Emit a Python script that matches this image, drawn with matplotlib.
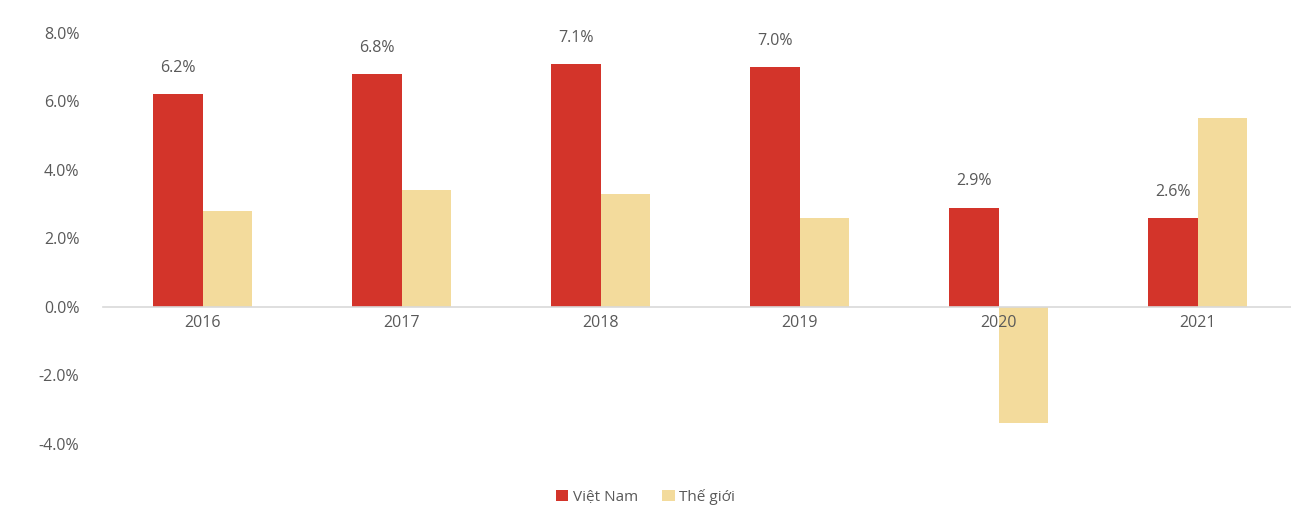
import numpy as np
import matplotlib.pyplot as plt
from matplotlib.ticker import FuncFormatter

# Tăng trưởng GDP: Việt Nam và thế giới
years = ['2016', '2017', '2018', '2019', '2020', '2021']
viet_nam = [6.2, 6.8, 7.1, 7.0, 2.9, 2.6]
the_gioi = [2.8, 3.4, 3.3, 2.6, -3.4, 5.5]

red = '#D3342A'
sand = '#F3DB9C'
grey = '#595959'

plt.rcParams['font.family'] = ['Open Sans', 'DejaVu Sans']

fig = plt.figure(figsize=(12.91, 5.11), dpi=100)
ax = fig.add_axes([103 / 1291, 0.131, 1194 / 1291, 0.805])

x = np.arange(len(years))
w = 0.25
b1 = ax.bar(x - w / 2, viet_nam, w, color=red, label='Việt Nam')
b2 = ax.bar(x + w / 2, the_gioi, w, color=sand, label='Thế giới')

for rect, v in zip(b1, viet_nam):
    ax.annotate(f'{v:.1f}%', (rect.get_x() + rect.get_width() / 2, v),
                xytext=(0, 13), textcoords='offset points',
                ha='center', va='bottom', fontsize=11.5, color=grey)

ax.set_xlim(-0.5, len(years) - 0.5)
ax.set_ylim(-4, 8)
ax.set_yticks(np.arange(-4, 9, 2))
ax.yaxis.set_major_formatter(FuncFormatter(lambda v, p: f'{v:.1f}%'))

ax.set_xticks(x)
ax.set_xticklabels(years)
ax.spines['bottom'].set_position(('data', 0))
ax.spines['bottom'].set_color('#D9D9D9')
ax.spines['bottom'].set_linewidth(1.2)
for s in ['top', 'right', 'left']:
    ax.spines[s].set_visible(False)
ax.tick_params(axis='both', length=0, colors=grey, labelsize=11.5)
ax.tick_params(axis='x', pad=6)
ax.tick_params(axis='y', pad=17)

fig.legend(handles=[b1, b2], loc='center', bbox_to_anchor=(0.5, 0.028),
           ncol=2, frameon=False, fontsize=11, labelcolor=grey,
           handlelength=0.8, handleheight=0.8, handletextpad=0.3,
           columnspacing=1.6)

fig.savefig('out.png', dpi=100)
